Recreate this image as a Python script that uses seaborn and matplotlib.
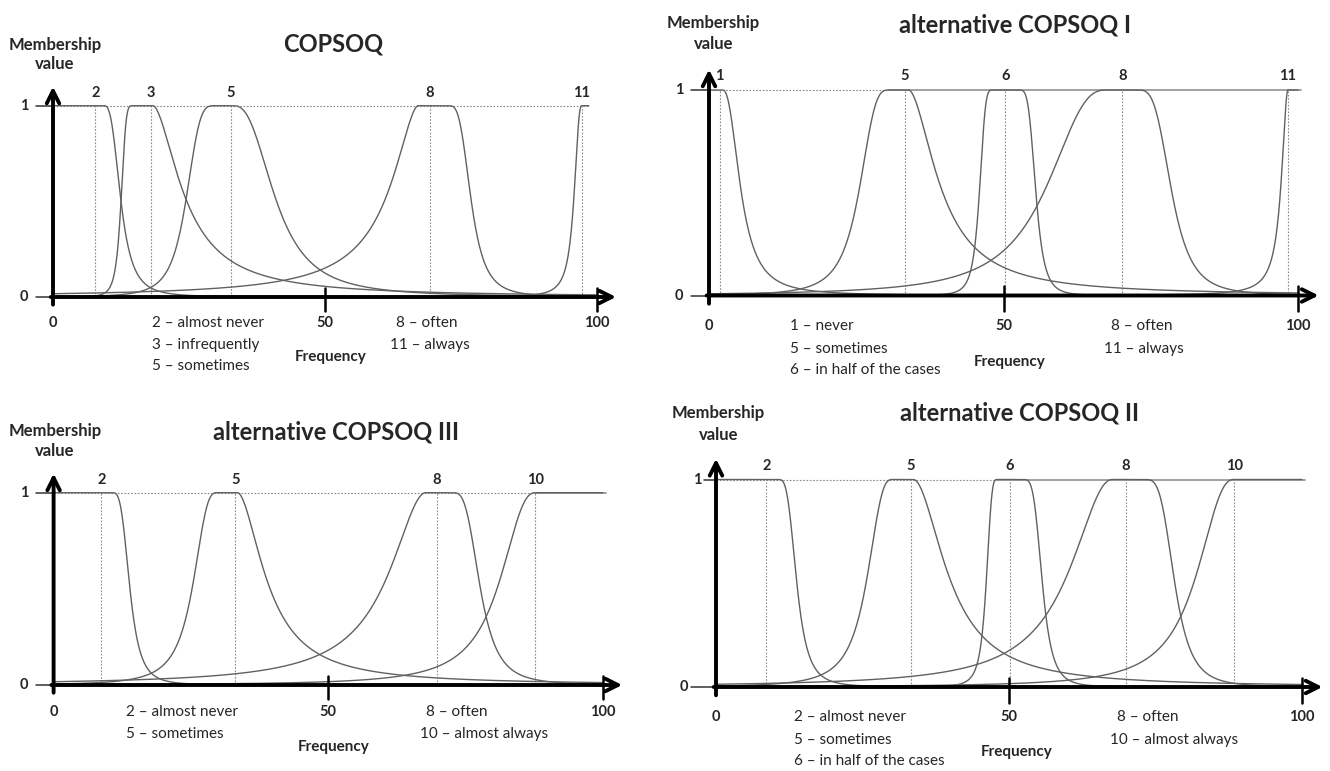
import numpy as np
import pandas as pd
import matplotlib
matplotlib.use("Agg")
import matplotlib.pyplot as plt
import matplotlib.transforms as mtrans
import seaborn as sns

# ------------------------------------------------------------------
# DATA (x = frequency 0..100)
# Each membership curve: plateau [start, end] at 1, bell-shaped flanks
# with half-width (distance from plateau edge to 0.5) and slope.
# ------------------------------------------------------------------
copsoq_labels = ["2", "3", "5", "8", "11"]
copsoq_peaks = [7.8, 18.0, 32.7, 69.3, 97.2]
copsoq_top_start = [0.0, 14.8, 29.9, 67.1, 97.2]
copsoq_top_end = [9.3, 18.4, 33.1, 72.7, 98.5]
copsoq_left_width = [0.0, 2.3, 5.5, 6.2, 1.5]
copsoq_left_slope = [0.0, 2.3, 1.9, 0.85, 1.25]
copsoq_right_width = [3.2, 6.2, 8.0, 4.2, 0.0]
copsoq_right_slope = [1.5, 0.87, 1.3, 1.67, 0.0]
copsoq_terms_left = ["2 – almost never", "3 – infrequently", "5 – sometimes"]
copsoq_terms_right = ["8 – often", "11 – always"]

alt1_labels = ["1", "5", "6", "8", "11"]
alt1_peaks = [1.8, 33.2, 50.3, 70.2, 98.3]
alt1_top_start = [0.0, 30.6, 48.2, 67.5, 98.3]
alt1_top_end = [2.3, 33.9, 52.5, 72.6, 100.0]
alt1_left_width = [0.0, 5.2, 2.3, 10.7, 1.3]
alt1_left_slope = [0.0, 1.6, 2.0, 1.3, 1.0]
alt1_right_width = [3.2, 5.8, 3.0, 6.0, 0.0]
alt1_right_slope = [1.2, 0.9, 2.1, 1.8, 0.0]
alt1_terms_left = ["1 – never", "5 – sometimes", "6 – in half of the cases"]
alt1_terms_right = ["8 – often", "11 – always"]

alt3_labels = ["2", "5", "8", "10"]
alt3_peaks = [8.7, 33.1, 69.7, 87.7]
alt3_top_start = [0.0, 29.7, 67.7, 87.7]
alt3_top_end = [10.6, 33.5, 72.6, 100.0]
alt3_left_width = [0.0, 4.5, 8.0, 7.0]
alt3_left_slope = [0.0, 1.4, 0.95, 1.2]
alt3_right_width = [3.3, 5.9, 5.1, 0.0]
alt3_right_slope = [1.75, 0.9, 1.63, 0.0]
alt3_terms_left = ["2 – almost never", "5 – sometimes"]
alt3_terms_right = ["8 – often", "10 – almost always"]

alt2_labels = ["2", "5", "6", "8", "10"]
alt2_peaks = [8.6, 33.2, 50.1, 69.9, 88.4]
alt2_top_start = [0.0, 30.1, 48.0, 67.6, 88.4]
alt2_top_end = [10.6, 33.7, 52.3, 73.0, 100.0]
alt2_left_width = [0.0, 4.5, 1.9, 8.3, 6.9]
alt2_left_slope = [0.0, 1.4, 1.75, 1.03, 1.2]
alt2_right_width = [3.2, 6.5, 3.4, 5.3, 0.0]
alt2_right_slope = [1.7, 0.95, 2.0, 1.88, 0.0]
alt2_terms_left = ["2 – almost never", "5 – sometimes", "6 – in half of the cases"]
alt2_terms_right = ["8 – often", "10 – almost always"]

x_tick_values = [0, 50, 100]
x_tick_labels = ["0", "50", "100"]
y_tick_values = [0, 1]
y_tick_labels = ["0", "1"]

# ------------------------------------------------------------------
sns.set_style("white")
plt.rcParams["font.family"] = ["Lato", "DejaVu Sans"]

W, H = 1330, 771
fig = plt.figure(figsize=(W / 100, H / 100), dpi=100)

CURVE_C = "#616161"
DOT_C = "#8a8a8a"


def membership(x, a, b, wl, sl, wr, sr):
    y = np.ones_like(x)
    left = x < a
    if wl > 0:
        y[left] = 1.0 / (1.0 + ((a - x[left]) / wl) ** (2 * sl))
    else:
        y[left] = np.nan
    right = x > b
    if wr > 0:
        y[right] = 1.0 / (1.0 + ((x[right] - b) / wr) ** (2 * sr))
    else:
        y[right] = np.nan
    return y


def px(x, y):
    return x / W, 1 - y / H


panels = [
    dict(title="COPSOQ", labels=copsoq_labels, peaks=copsoq_peaks,
         ts=copsoq_top_start, te=copsoq_top_end,
         wl=copsoq_left_width, sl=copsoq_left_slope,
         wr=copsoq_right_width, sr=copsoq_right_slope,
         tl=copsoq_terms_left, tr=copsoq_terms_right,
         x0=53, x100=597, y0=297, y1=105.7, solid_from=None, top_end=98.5,
         title_xy=(333, 44), mem_xy=[(55, 45), (55, 64)], peak_y=93,
         ytl_x=[24, 24], dash=[-3.2, -3.2], xtl_y=323,
         left_x=[151.6] * 3, left_y=[323, 345, 366],
         right_x=[396, 389.5], right_y=[323, 345], freq_xy=(330.5, 357)),
    dict(title="alternative COPSOQ I", labels=alt1_labels, peaks=alt1_peaks,
         ts=alt1_top_start, te=alt1_top_end,
         wl=alt1_left_width, sl=alt1_left_slope,
         wr=alt1_right_width, sr=alt1_right_slope,
         tl=alt1_terms_left, tr=alt1_terms_right,
         x0=709, x100=1298, y0=295.5, y1=90, solid_from=30.6, top_end=100.5,
         title_xy=(1014.7, 25), mem_xy=[(713.4, 22.7), (714, 44.3)], peak_y=76,
         ytl_x=[679, 679], dash=[-3.0, -3.0], xtl_y=326,
         left_x=[789.5] * 3, left_y=[326, 349, 370],
         right_x=[1111, 1104], right_y=[326, 349], freq_xy=(1010, 361.7)),
    dict(title="alternative COPSOQ III", labels=alt3_labels, peaks=alt3_peaks,
         ts=alt3_top_start, te=alt3_top_end,
         wl=alt3_left_width, sl=alt3_left_slope,
         wr=alt3_right_width, sr=alt3_right_slope,
         tl=alt3_terms_left, tr=alt3_terms_right,
         x0=53.6, x100=603, y0=685, y1=492.7, solid_from=87.7, top_end=100.5,
         title_xy=(335.6, 431.7), mem_xy=[(55, 430.7), (55, 451)], peak_y=480,
         ytl_x=[24, 24], dash=[-3.2, -3.2], xtl_y=711.7,
         left_x=[125.5] * 2, left_y=[711.7, 734],
         right_x=[426.5, 420], right_y=[711.7, 734], freq_xy=(333.5, 746.7)),
    dict(title="alternative COPSOQ II", labels=alt2_labels, peaks=alt2_peaks,
         ts=alt2_top_start, te=alt2_top_end,
         wl=alt2_left_width, sl=alt2_left_slope,
         wr=alt2_right_width, sr=alt2_right_slope,
         tl=alt2_terms_left, tr=alt2_terms_right,
         x0=716, x100=1302, y0=687, y1=479.5, solid_from=48.0, top_end=100.5,
         title_xy=(1019, 413.3), mem_xy=[(718.5, 413.3), (718.5, 435)], peak_y=466,
         ytl_x=[684, 697], dash=[-4.2, -2.0], xtl_y=716.7,
         left_x=[793.8] * 3, left_y=[716.7, 740, 761],
         right_x=[1117, 1109.6], right_y=[716.7, 740], freq_xy=(1016.8, 752.3)),
]

XMIN, XMAX = -12.0, 106.0
YMIN, YMAX = -0.15, 1.15
grid = np.linspace(0, 100, 2001)

for p in panels:
    sx = (p["x100"] - p["x0"]) / 100.0
    sy = (p["y0"] - p["y1"])
    left_px = p["x0"] + XMIN * sx
    right_px = p["x0"] + XMAX * sx
    top_px = p["y0"] - YMAX * sy
    bot_px = p["y0"] - YMIN * sy
    ax = fig.add_axes([left_px / W, 1 - bot_px / H,
                       (right_px - left_px) / W, (bot_px - top_px) / H])
    ax.set_xlim(XMIN, XMAX)
    ax.set_ylim(YMIN, YMAX)
    ax.axis("off")

    # membership curves
    frames = []
    for i, lab in enumerate(p["labels"]):
        yv = membership(grid, p["ts"][i], p["te"][i], p["wl"][i], p["sl"][i],
                        p["wr"][i], p["sr"][i])
        frames.append(pd.DataFrame({"x": grid, "y": yv, "term": lab}))
    df = pd.concat(frames).dropna()
    sns.lineplot(data=df, x="x", y="y", units="term", estimator=None, sort=False,
                 color=CURVE_C, lw=1.0, ax=ax, legend=False)

    # dotted guides
    for pk in p["peaks"]:
        ax.plot([pk, pk], [0, 1], color=DOT_C, lw=0.8, ls=(0, (1.5, 1.5)), zorder=1)
    dot_end = p["solid_from"] if p["solid_from"] is not None else p["top_end"]
    ax.plot([0, dot_end], [1, 1], color=DOT_C, lw=0.8, ls=(0, (1.5, 1.5)), zorder=1)
    if p["solid_from"] is not None:
        ax.plot([p["solid_from"], p["top_end"]], [1, 1], color="#9a9a9a", lw=1.3, zorder=1)

    # axes with arrows
    ax.annotate("", xy=(103.5, 0), xytext=(-0.4, 0),
                arrowprops=dict(arrowstyle="->,head_length=0.9,head_width=0.45",
                                lw=2.8, color="black", shrinkA=0, shrinkB=0),
                annotation_clip=False, zorder=5)
    ax.annotate("", xy=(0, 1.1), xytext=(0, -0.04),
                arrowprops=dict(arrowstyle="->,head_length=0.9,head_width=0.45",
                                lw=2.8, color="black", shrinkA=0, shrinkB=0),
                annotation_clip=False, zorder=5)
    for xv in x_tick_values[1:]:
        ax.plot([xv, xv], [-0.075, 0.045], color="black", lw=1.8, zorder=5,
                clip_on=False)
    for yv, d in zip(y_tick_values, p["dash"]):
        ax.plot([d, 0], [yv, yv], color="#333333", lw=1.1, zorder=4, clip_on=False)

    # tick labels
    bx = mtrans.blended_transform_factory(ax.transData, fig.transFigure)
    for xv, xl in zip(x_tick_values, x_tick_labels):
        ax.text(xv, 1 - p["xtl_y"] / H, xl, transform=bx, ha="center", va="center",
                fontsize=10.5, fontweight="bold")
    by = mtrans.blended_transform_factory(fig.transFigure, ax.transData)
    for xpx, yv, yl in zip(p["ytl_x"], y_tick_values, y_tick_labels):
        ax.text(xpx / W, yv, yl, transform=by, ha="center", va="center",
                fontsize=10.5, fontweight="bold")

    # peak labels
    for pk, lab in zip(p["peaks"], p["labels"]):
        ax.text(pk, 1 - p["peak_y"] / H, lab, transform=bx, ha="center",
                va="center", fontsize=10.5, fontweight="bold")

    # titles & captions
    fig.text(*px(*p["title_xy"]), p["title"], ha="center", va="center",
             fontsize=17, fontweight="bold")
    fig.text(*px(*p["mem_xy"][0]), "Membership", ha="center", va="center",
             fontsize=12, fontweight="bold")
    fig.text(*px(*p["mem_xy"][1]), "value", ha="center", va="center",
             fontsize=12, fontweight="bold")
    fig.text(*px(*p["freq_xy"]), "Frequency", ha="center", va="center",
             fontsize=11, fontweight="bold")
    for t, xx, yy in zip(p["tl"], p["left_x"], p["left_y"]):
        fig.text(*px(xx, yy), t, ha="left", va="center", fontsize=11)
    for t, xx, yy in zip(p["tr"], p["right_x"], p["right_y"]):
        fig.text(*px(xx, yy), t, ha="left", va="center", fontsize=11)

fig.savefig("out.png", dpi=100, facecolor="white")
